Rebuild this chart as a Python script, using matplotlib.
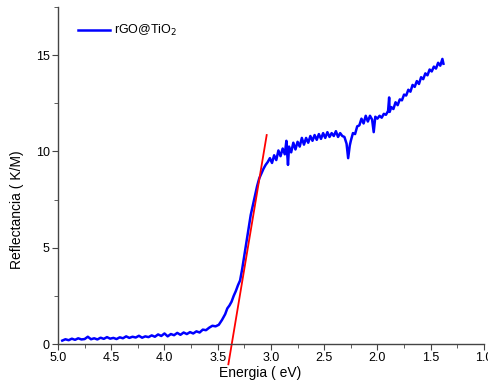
import matplotlib
matplotlib.use("Agg")
import matplotlib.pyplot as plt
from matplotlib.ticker import MultipleLocator

# ------------------------------
# Dados (Energia em eV, K/M)
# ------------------------------
energia = [
    4.96, 4.93, 4.90, 4.87, 4.84, 4.81, 4.78, 4.75, 4.72, 4.69,
    4.66, 4.63, 4.60, 4.57, 4.54, 4.51, 4.48, 4.45, 4.42, 4.39,
    4.36, 4.33, 4.30, 4.27, 4.24, 4.21, 4.18, 4.15, 4.12, 4.09,
    4.06, 4.03, 4.00, 3.97, 3.94, 3.91, 3.88, 3.85, 3.82, 3.79,
    3.76, 3.73, 3.70, 3.67, 3.64, 3.61, 3.58, 3.55, 3.52, 3.49,
    3.46, 3.43, 3.41, 3.39, 3.37, 3.35, 3.33, 3.31, 3.29, 3.27,
    3.25, 3.23, 3.21, 3.19, 3.17, 3.15, 3.13, 3.11, 3.09, 3.07,
    3.05, 3.03, 3.01, 2.99, 2.97, 2.95, 2.93, 2.91, 2.89, 2.87,
    2.855, 2.85, 2.84, 2.83, 2.81, 2.79, 2.77, 2.75, 2.73, 2.71,
    2.69, 2.67, 2.65, 2.63, 2.61, 2.59, 2.57, 2.55, 2.53, 2.51,
    2.49, 2.47, 2.45, 2.43, 2.41, 2.39, 2.37, 2.35, 2.33, 2.31,
    2.29, 2.275, 2.26, 2.25, 2.23, 2.21, 2.19, 2.17, 2.15, 2.13,
    2.11, 2.09, 2.07, 2.05, 2.035, 2.02, 2.00, 1.98, 1.96, 1.94,
    1.92, 1.90, 1.89, 1.885, 1.87, 1.85, 1.83, 1.81, 1.79, 1.77,
    1.75, 1.73, 1.71, 1.69, 1.67, 1.65, 1.63, 1.61, 1.59, 1.57,
    1.55, 1.53, 1.51, 1.49, 1.47, 1.45, 1.43, 1.41, 1.39, 1.38,
]
km = [
    0.18, 0.25, 0.20, 0.28, 0.22, 0.30, 0.24, 0.26, 0.38, 0.25,
    0.30, 0.24, 0.33, 0.27, 0.36, 0.28, 0.32, 0.26, 0.35, 0.30,
    0.40, 0.32, 0.38, 0.34, 0.43, 0.33, 0.40, 0.36, 0.45, 0.38,
    0.50, 0.42, 0.55, 0.40, 0.52, 0.46, 0.58, 0.48, 0.60, 0.52,
    0.62, 0.55, 0.66, 0.60, 0.75, 0.72, 0.85, 0.95, 0.92, 1.00,
    1.25, 1.55, 1.85, 2.00, 2.20, 2.50, 2.75, 3.05, 3.30, 3.90,
    4.60, 5.30, 6.00, 6.70, 7.20, 7.70, 8.20, 8.60, 8.85, 9.10,
    9.30, 9.45, 9.65, 9.40, 9.80, 9.55, 10.05, 9.75, 10.15, 9.85,
    10.55, 10.10, 9.30, 10.25, 9.95, 10.45, 10.10, 10.50, 10.25, 10.70,
    10.35, 10.70, 10.45, 10.80, 10.55, 10.85, 10.60, 10.90, 10.65, 10.95,
    10.70, 11.00, 10.75, 10.95, 10.80, 11.05, 10.75, 10.95, 10.80, 10.75,
    10.40, 9.65, 10.30, 10.55, 10.95, 10.90, 11.30, 11.35, 11.70, 11.45,
    11.85, 11.55, 11.85, 11.65, 11.00, 11.80, 11.70, 11.85, 11.75, 11.95,
    11.90, 12.10, 12.80, 12.05, 12.30, 12.20, 12.55, 12.40, 12.70, 12.65,
    12.95, 12.90, 13.20, 13.10, 13.45, 13.35, 13.65, 13.50, 13.85, 13.75,
    14.05, 13.95, 14.25, 14.15, 14.40, 14.30, 14.60, 14.45, 14.80, 14.55,
]

# Reta de ajuste (extrapolação do gap)
energia_ajuste = [3.40, 3.04]
km_ajuste = [-1.05, 10.85]

# ------------------------------
# Figura
# ------------------------------
plt.rcParams["font.family"] = ["Liberation Sans", "DejaVu Sans"]

fig = plt.figure(figsize=(4.89, 3.84), dpi=100)
ax = fig.add_axes([0.1186, 0.104, 0.871, 0.878])

ax.plot(energia, km, color="#0000FF", linewidth=1.8, label="rGO@TiO$_2$")
ax.plot(energia_ajuste, km_ajuste, color="#FF0000", linewidth=1.3, clip_on=False)

ax.set_xlim(5.0, 1.0)
ax.set_ylim(0, 17.5)

ax.xaxis.set_major_locator(MultipleLocator(0.5))
ax.xaxis.set_minor_locator(MultipleLocator(0.25))
ax.yaxis.set_major_locator(MultipleLocator(5))
ax.yaxis.set_minor_locator(MultipleLocator(2.5))

ax.spines["top"].set_visible(False)
ax.spines["right"].set_visible(False)
for lado in ["left", "bottom"]:
    ax.spines[lado].set_color("#444444")
    ax.spines[lado].set_linewidth(1.0)

ax.tick_params(which="both", direction="out", color="#444444", labelsize=9, pad=2)
ax.tick_params(which="major", length=4)
ax.tick_params(which="minor", length=3)

ax.set_xlabel("Energia ( eV)", fontsize=10)
ax.set_ylabel("Reflectancia ( K/M)", fontsize=10)
ax.xaxis.set_label_coords(0.475, -0.065)
ax.yaxis.set_label_coords(-0.08, 0.40)

ax.legend(loc="upper left", bbox_to_anchor=(0.02, 0.985), frameon=False,
          fontsize=9, handlelength=2.6, handletextpad=0.3)

fig.savefig("out.png", dpi=100)
